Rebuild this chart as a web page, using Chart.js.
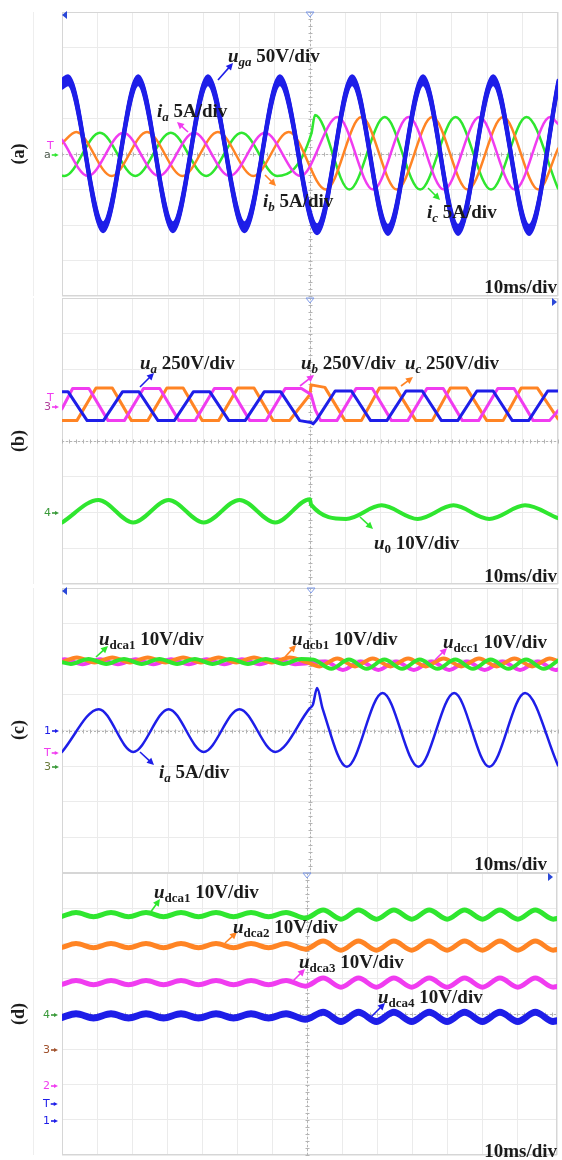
<!DOCTYPE html>
<html>
<head>
<meta charset="utf-8">
<title>Scope captures (a)-(d)</title>
<script src="https://cdn.jsdelivr.net/npm/chart.js"></script>
<style>
    html, body { margin: 0; padding: 0; background: #fff; }
    #wrap { position: relative; width: 562px; height: 1160px; overflow: hidden; }
    canvas { position: absolute; left: 0; }
</style>
</head>
<body>
<div id="wrap">
    <canvas id="scopeA" width="562" height="298" style="top:0px"></canvas>
    <canvas id="scopeB" width="562" height="289" style="top:297px"></canvas>
    <canvas id="scopeC" width="562" height="288" style="top:586px"></canvas>
    <canvas id="scopeD" width="562" height="288" style="top:872px"></canvas>
</div>
<script>
// time in ms (10 ms/div, trigger at 0), values in screen divisions from centre

// (a) grid voltage and phase currents
const tUga = [-70, -68.3, -58.4, -48.5, -38.7, -28.8, -18.5, -8.5, 2.0, 11.9, 22.0, 31.9, 41.8, 51.7, 61.8, 70];
const uga  = [1.98, 2.08, -2.06, 2.08, -2.06, 2.08, -2.06, 2.08, -2.12, 2.08, -2.14, 2.08, -2.14, 2.08, -2.14, 1.95];
const tIaA = [-70, -62.7, -52.7, -42.7, -32.7, -22.7, -12.7, -2.7, 7.8, 17.8, 27.8, 37.8, 47.8, 57.8, 67.8, 70];
const iaA  = [0.4, -0.62, 0.6, -0.62, 0.6, -0.62, 0.6, -0.62, 1.04, -1.0, 1.04, -1.0, 1.04, -1.0, 1.04, 0.85];
const tIbA = [-70, -66, -56, -46, -36, -26, -16, -6, 4.5, 14.5, 24.5, 34.5, 44.5, 54.5, 64.5, 70];
const ibA  = [0.3, 0.62, -0.62, 0.62, -0.62, 0.62, -0.62, 0.62, -1.0, 1.04, -1.0, 1.04, -1.0, 1.04, -1.0, 0.15];
const tIcA = [-70, -69.3, -59.3, -49.3, -39.3, -29.3, -19.3, -9.3, 0.4, 1.4, 11.1, 21.1, 31.1, 41.1, 51.1, 61.1, 70];
const icA  = [-0.61, -0.62, 0.6, -0.62, 0.6, -0.62, 0.6, -0.62, 0.58, 1.1, -1.0, 1.04, -1.0, 1.04, -1.0, 1.04, -0.97];

// (b) phase voltages (trapezoid corners) and zero-sequence voltage
const tUa = [-70, -68.3, -62.9, -58.3, -52.9, -48.3, -42.9, -38.3, -32.9, -28.3, -22.9, -18.3, -12.9, -8.3, -2.9, 0.3, 0.9, 1.7, 7.1, 11.7, 17.1, 21.7, 27.1, 31.7, 37.1, 41.7, 47.1, 51.7, 57.1, 61.7, 67.1, 70];
const ua  = [1.38, 1.38, 0.57, 0.57, 1.38, 1.38, 0.57, 0.57, 1.38, 1.38, 0.57, 0.57, 1.38, 1.38, 0.57, 0.52, 0.48, 0.57, 1.40, 1.40, 0.57, 0.57, 1.40, 1.40, 0.57, 0.57, 1.40, 1.40, 0.57, 0.57, 1.40, 1.40];
const tUb = [-70, -67, -62.4, -57, -52.4, -47, -42.4, -37, -32.4, -27, -22.4, -17, -12.4, -7, -2.4, 0.3, 1.5, 3, 7.6, 13, 17.6, 23, 27.6, 33, 37.6, 43, 47.6, 53, 57.6, 63, 67.6, 70];
const ub  = [0.9, 1.47, 1.47, 0.57, 0.57, 1.47, 1.47, 0.57, 0.57, 1.47, 1.47, 0.57, 0.57, 1.47, 1.47, 1.3, 0.87, 0.57, 0.57, 1.47, 1.47, 0.57, 0.57, 1.47, 1.47, 0.57, 0.57, 1.47, 1.47, 0.57, 0.57, 0.85];
const tUc = [-70, -65.8, -60.4, -55.8, -50.4, -45.8, -40.4, -35.8, -30.4, -25.8, -20.4, -15.8, -10.4, -5.8, 0, 0.3, 4.2, 9.9, 14.5, 19.6, 24.2, 29.9, 34.5, 39.6, 44.2, 49.9, 54.5, 59.6, 64.2, 70];
const uc  = [0.57, 0.57, 1.48, 1.48, 0.57, 0.57, 1.48, 1.48, 0.57, 0.57, 1.48, 1.48, 0.57, 0.57, 1.3, 1.57, 1.5, 0.57, 0.57, 1.48, 1.48, 0.57, 0.57, 1.48, 1.48, 0.57, 0.57, 1.48, 1.48, 0.62];
const tU0 = [-70, -59.7, -49.9, -39.9, -30.0, -19.9, -9.8, 0, 0.3, 10.2, 20.2, 30.4, 40.5, 50.6, 60.7, 70];
const u0  = [-2.28, -1.65, -2.28, -1.65, -2.28, -1.65, -2.28, -1.63, -1.78, -2.18, -1.8, -2.18, -1.8, -2.18, -1.8, -2.16];

// (c) first-module dc voltages of each cluster and phase-a current
const tDca = [-70, -67.5, -62.5, -57.5, -52.5, -47.5, -42.5, -37.5, -32.5, -27.5, -22.5, -17.5, -12.5, -7.5, -2.5, 1, 6, 11, 16, 21, 26, 31, 36, 41, 46, 51, 56, 61, 66, 70];
const udca1C = [1.92, 1.87, 2.01, 1.87, 2.01, 1.87, 2.01, 1.87, 2.01, 1.87, 2.01, 1.87, 2.01, 1.87, 2.01, 1.99, 1.73, 1.99, 1.73, 1.99, 1.73, 1.99, 1.73, 1.99, 1.73, 1.99, 1.73, 1.99, 1.73, 1.96];
const tDcb = [-70, -65.8, -60.8, -55.8, -50.8, -45.8, -40.8, -35.8, -30.8, -25.8, -20.8, -15.8, -10.8, -5.8, -0.8, 2.7, 7.7, 12.7, 17.7, 22.7, 27.7, 32.7, 37.7, 42.7, 47.7, 52.7, 57.7, 62.7, 67.7, 70];
const udcb1C = [1.92, 2.05, 1.91, 2.05, 1.91, 2.05, 1.91, 2.05, 1.91, 2.05, 1.91, 2.05, 1.91, 2.05, 1.91, 1.80, 2.02, 1.80, 2.02, 1.80, 2.02, 1.80, 2.02, 1.80, 2.02, 1.80, 2.02, 1.80, 2.02, 1.95];
const tDcc = [-70, -69.2, -64.2, -59.2, -54.2, -49.2, -44.2, -39.2, -34.2, -29.2, -24.2, -19.2, -14.2, -9.2, -4.2, 4.3, 9.3, 14.3, 19.3, 24.3, 29.3, 34.3, 39.3, 44.3, 49.3, 54.3, 59.3, 64.3, 69.3, 70];
const udcc1C = [1.99, 2.0, 1.86, 2.0, 1.86, 2.0, 1.86, 2.0, 1.86, 2.0, 1.86, 2.0, 1.86, 2.0, 1.86, 1.94, 1.70, 1.94, 1.70, 1.94, 1.70, 1.94, 1.70, 1.94, 1.70, 1.94, 1.70, 1.94, 1.70, 1.71];
const tIaC = [-70, -59.6, -49.9, -39.9, -30.0, -19.9, -9.8, -0.1, 0.8, 2.0, 3.6, 10.4, 20.5, 30.6, 40.7, 50.6, 60.7, 70];
const iaC  = [-0.6, 0.6, -0.6, 0.6, -0.6, 0.6, -0.6, 0.62, 0.72, 1.19, 0.6, -1.02, 1.05, -1.02, 1.05, -1.02, 1.05, -0.98];

// (d) the four dc voltages of cluster a (ripples in phase)
const tD = [-70, -66, -61, -56, -51, -46, -41, -36, -31, -26, -21, -16, -11, -6, -0.5, 4.6, 9.7, 14.7, 19.8, 24.8, 29.9, 34.9, 40, 45, 50.1, 55.1, 60.2, 65.2, 70.3, 71.4];
const udca1D = [2.77, 2.88, 2.76, 2.88, 2.76, 2.88, 2.76, 2.88, 2.76, 2.88, 2.76, 2.88, 2.76, 2.88, 2.72, 2.95, 2.69, 2.95, 2.69, 2.95, 2.69, 2.95, 2.69, 2.95, 2.69, 2.95, 2.69, 2.95, 2.69, 2.71];
const udca2D = [1.89, 2.00, 1.88, 2.00, 1.88, 2.00, 1.88, 2.00, 1.88, 2.00, 1.88, 2.00, 1.88, 2.00, 1.84, 2.07, 1.81, 2.07, 1.81, 2.07, 1.81, 2.07, 1.81, 2.07, 1.81, 2.07, 1.81, 2.07, 1.81, 1.83];
const udca3D = [0.84, 0.95, 0.83, 0.95, 0.83, 0.95, 0.83, 0.95, 0.83, 0.95, 0.83, 0.95, 0.83, 0.95, 0.79, 1.02, 0.76, 1.02, 0.76, 1.02, 0.76, 1.02, 0.76, 1.02, 0.76, 1.02, 0.76, 1.02, 0.76, 0.78];
const udca4D = [-0.10, 0.01, -0.11, 0.01, -0.11, 0.01, -0.11, 0.01, -0.11, 0.01, -0.11, 0.01, -0.11, 0.01, -0.15, 0.05, -0.21, 0.05, -0.21, 0.05, -0.21, 0.05, -0.21, 0.05, -0.21, 0.05, -0.21, 0.05, -0.21, -0.19];

const BLUE = '#1e1ee8', MAGENTA = '#f03cf0', ORANGE = '#ff8424', GREEN = '#2fe62f';
const INK = '#1b1b1b';
const SERIF = '"Liberation Serif", "Times New Roman", serif';

function pts(t, v) {
    return t.map((x, i) => ({ x: x, y: v[i] }));
}

const panels = [
    {
        id: 'scopeA', top: 0, xMax: 70, pad: { left: 62, right: 4, top: 12, bottom: 2 },
        series: [
            // noisy trace: thin stroke repeated with small vertical offsets (px)
            { t: tUga, v: uga, color: BLUE, width: 3, band: [-4.5, -3, -1.5, 1.5, 3, 4.5] },
            { t: tIaA, v: iaA, color: MAGENTA, width: 2.5 },
            { t: tIbA, v: ibA, color: ORANGE, width: 2.5 },
            { t: tIcA, v: icA, color: GREEN, width: 2.5 }
        ],
        letter: '(a)', letterY: 154, scaleLabel: { x: 557, y: 293 },
        labels: [
            { x: 228, y: 62, main: 'u', sub: 'ga', subIt: true, rest: ' 50V/div' },
            { x: 157, y: 117, main: 'i', sub: 'a', subIt: true, rest: ' 5A/div' },
            { x: 263, y: 207, main: 'i', sub: 'b', subIt: true, rest: ' 5A/div' },
            { x: 427, y: 218, main: 'i', sub: 'c', subIt: true, rest: ' 5A/div' }
        ],
        arrows: [
            { from: [218, 80], to: [233, 63], color: BLUE },
            { from: [188, 132], to: [177, 122], color: MAGENTA },
            { from: [265, 175], to: [276, 186], color: ORANGE },
            { from: [428, 188], to: [440, 200], color: GREEN }
        ],
        marks: [
            { s: 'T', x: 47, y: 146, color: MAGENTA },
            { s: 'a', x: 44, y: 155, color: '#4d5a4d', arrow: GREEN }
        ],
        tris: [{ kind: 'left', x: 62, y: 15 }, { kind: 'down', x: 310, y: 12 }]
    },
    {
        id: 'scopeB', top: 297, xMax: 70, pad: { left: 62, right: 4, top: 1, bottom: 2 },
        series: [
            { t: tUa, v: ua, color: BLUE, width: 3, straight: true },
            { t: tUb, v: ub, color: MAGENTA, width: 3, straight: true },
            { t: tUc, v: uc, color: ORANGE, width: 3, straight: true },
            { t: tU0, v: u0, color: GREEN, width: 4 }
        ],
        letter: '(b)', letterY: 441, scaleLabel: { x: 557, y: 582 },
        labels: [
            { x: 140, y: 369, main: 'u', sub: 'a', subIt: true, rest: ' 250V/div' },
            { x: 301, y: 369, main: 'u', sub: 'b', subIt: true, rest: ' 250V/div' },
            { x: 405, y: 369, main: 'u', sub: 'c', subIt: true, rest: ' 250V/div' },
            { x: 374, y: 549, main: 'u', sub: '0', subIt: false, rest: ' 10V/div' }
        ],
        arrows: [
            { from: [140, 387], to: [154, 373], color: BLUE },
            { from: [300, 386], to: [314, 375], color: MAGENTA },
            { from: [401, 386], to: [413, 377], color: ORANGE },
            { from: [360, 517], to: [373, 529], color: GREEN }
        ],
        marks: [
            { s: 'T', x: 47, y: 398, color: MAGENTA },
            { s: '3', x: 44, y: 407, color: '#b0409a', arrow: MAGENTA },
            { s: '4', x: 44, y: 513, color: '#3a9a3a', arrow: '#3a9a3a' }
        ],
        tris: [{ kind: 'down', x: 310, y: 298 }, { kind: 'right', x: 557, y: 302 }]
    },
    {
        id: 'scopeC', top: 586, xMax: 70, pad: { left: 62, right: 4, top: 2, bottom: 1 },
        series: [
            { t: tDca, v: udca1C, color: GREEN, width: 4 },
            { t: tDcb, v: udcb1C, color: ORANGE, width: 4 },
            { t: tDcc, v: udcc1C, color: MAGENTA, width: 4 },
            { t: tIaC, v: iaC, color: BLUE, width: 2.5 }
        ],
        letter: '(c)', letterY: 730, scaleLabel: { x: 547, y: 870 },
        labels: [
            { x: 99, y: 645, main: 'u', sub: 'dca1', subIt: false, rest: ' 10V/div' },
            { x: 292, y: 645, main: 'u', sub: 'dcb1', subIt: false, rest: ' 10V/div' },
            { x: 443, y: 648, main: 'u', sub: 'dcc1', subIt: false, rest: ' 10V/div' },
            { x: 159, y: 778, main: 'i', sub: 'a', subIt: true, rest: ' 5A/div' }
        ],
        arrows: [
            { from: [96, 657], to: [108, 646], color: GREEN },
            { from: [285, 657], to: [296, 645], color: ORANGE },
            { from: [435, 660], to: [447, 648], color: MAGENTA },
            { from: [140, 752], to: [154, 765], color: BLUE }
        ],
        marks: [
            { s: '1', x: 44, y: 731, color: BLUE, arrow: BLUE },
            { s: 'T', x: 44, y: 753, color: MAGENTA, arrow: MAGENTA },
            { s: '3', x: 44, y: 767, color: '#6a7a3a', arrow: '#3a9a3a' }
        ],
        tris: [{ kind: 'left', x: 62, y: 591 }, { kind: 'down', x: 311, y: 588 }]
    },
    {
        id: 'scopeD', top: 872, xMax: 71.4, pad: { left: 62, right: 5, top: 1, bottom: 5 },
        series: [
            { t: tD, v: udca1D, color: GREEN, width: 5 },
            { t: tD, v: udca2D, color: ORANGE, width: 5 },
            { t: tD, v: udca3D, color: MAGENTA, width: 5 },
            { t: tD, v: udca4D, color: BLUE, width: 4, band: [-1.5, 1.5] }
        ],
        letter: '(d)', letterY: 1014, scaleLabel: { x: 557, y: 1157 },
        labels: [
            { x: 154, y: 898, main: 'u', sub: 'dca1', subIt: false, rest: ' 10V/div' },
            { x: 233, y: 933, main: 'u', sub: 'dca2', subIt: false, rest: ' 10V/div' },
            { x: 299, y: 968, main: 'u', sub: 'dca3', subIt: false, rest: ' 10V/div' },
            { x: 378, y: 1003, main: 'u', sub: 'dca4', subIt: false, rest: ' 10V/div' }
        ],
        arrows: [
            { from: [150, 913], to: [160, 899], color: GREEN },
            { from: [225, 943], to: [237, 932], color: ORANGE },
            { from: [292, 982], to: [305, 969], color: MAGENTA },
            { from: [371, 1017], to: [385, 1003], color: BLUE }
        ],
        marks: [
            { s: '4', x: 43, y: 1015, color: '#3a9a3a', arrow: '#3a9a3a' },
            { s: '3', x: 43, y: 1050, color: '#a0522d', arrow: '#a0522d' },
            { s: '2', x: 43, y: 1086, color: MAGENTA, arrow: MAGENTA },
            { s: 'T', x: 43, y: 1104, color: BLUE, arrow: BLUE },
            { s: '1', x: 43, y: 1121, color: BLUE, arrow: BLUE }
        ],
        tris: [{ kind: 'down', x: 307, y: 873 }, { kind: 'right', x: 553, y: 877 }]
    }
];

function drawArrow(ctx, x1, y1, x2, y2, color, head) {
    const ang = Math.atan2(y2 - y1, x2 - x1);
    const c = Math.cos(ang), s = Math.sin(ang);
    ctx.strokeStyle = color;
    ctx.fillStyle = color;
    ctx.lineWidth = 1.6;
    ctx.beginPath();
    ctx.moveTo(x1, y1);
    ctx.lineTo(x2 - head * 0.6 * c, y2 - head * 0.6 * s);
    ctx.stroke();
    ctx.beginPath();
    ctx.moveTo(x2, y2);
    ctx.lineTo(x2 - head * c + head * 0.5 * s, y2 - head * s - head * 0.5 * c);
    ctx.lineTo(x2 - head * c - head * 0.5 * s, y2 - head * s + head * 0.5 * c);
    ctx.closePath();
    ctx.fill();
}

const scopeDecor = {
    id: 'scopeDecor',
    beforeDatasetsDraw(chart) {
        const p = chart.$panel;
        const { ctx, chartArea: a } = chart;
        const x = chart.scales.x, y = chart.scales.y;
        ctx.save();
        // faint edge of the scope screenshot
        ctx.strokeStyle = '#eeeeee';
        ctx.lineWidth = 1;
        ctx.beginPath();
        ctx.moveTo(33.5, a.top);
        ctx.lineTo(33.5, a.bottom);
        ctx.stroke();
        // frame
        ctx.strokeStyle = '#d6d6d6';
        ctx.strokeRect(a.left + 0.5, a.top + 0.5, a.width - 1, a.height - 1);
        // dotted centre cross with minor ticks
        const cx = Math.round(x.getPixelForValue(0)) + 0.5;
        const cy = Math.round(y.getPixelForValue(0)) + 0.5;
        ctx.strokeStyle = '#b4b4b4';
        ctx.setLineDash([2, 2]);
        ctx.beginPath();
        ctx.moveTo(cx, a.top);
        ctx.lineTo(cx, a.bottom);
        ctx.moveTo(a.left, cy);
        ctx.lineTo(a.right, cy);
        ctx.stroke();
        ctx.setLineDash([]);
        ctx.beginPath();
        for (let t = -70; t <= p.xMax + 0.01; t += 2) {
            const px = Math.round(x.getPixelForValue(t)) + 0.5;
            ctx.moveTo(px, cy - 2);
            ctx.lineTo(px, cy + 2);
        }
        for (let k = -20; k <= 20; k++) {
            const py = Math.round(y.getPixelForValue(k / 5)) + 0.5;
            ctx.moveTo(cx - 2, py);
            ctx.lineTo(cx + 2, py);
        }
        ctx.stroke();
        ctx.restore();
    },
    afterDatasetDraw(chart, args) {
        const ds = chart.data.datasets[args.index];
        if (!ds.band) return;
        const { ctx, chartArea: a } = chart;
        ctx.save();
        ctx.beginPath();
        ctx.rect(a.left, a.top, a.width, a.height);
        ctx.clip();
        ds.band.forEach(dy => {
            ctx.save();
            ctx.translate(0, dy);
            args.meta.dataset.draw(ctx, a);
            ctx.restore();
        });
        ctx.restore();
    },
    afterDraw(chart) {
        const p = chart.$panel;
        const ctx = chart.ctx;
        const oy = p.top;
        ctx.save();

        // trigger / position markers
        p.tris.forEach(m => {
            const ty = m.y - oy;
            ctx.beginPath();
            if (m.kind === 'left') {
                ctx.moveTo(m.x, ty); ctx.lineTo(m.x + 5, ty - 4); ctx.lineTo(m.x + 5, ty + 4);
                ctx.closePath(); ctx.fillStyle = '#2a48d8'; ctx.fill();
            } else if (m.kind === 'right') {
                ctx.moveTo(m.x, ty); ctx.lineTo(m.x - 5, ty - 4); ctx.lineTo(m.x - 5, ty + 4);
                ctx.closePath(); ctx.fillStyle = '#2a48d8'; ctx.fill();
            } else {
                ctx.moveTo(m.x - 4, ty); ctx.lineTo(m.x + 4, ty); ctx.lineTo(m.x, ty + 5);
                ctx.closePath(); ctx.strokeStyle = '#7f9be8'; ctx.lineWidth = 1; ctx.stroke();
            }
        });

        // channel ground markers
        ctx.textBaseline = 'middle';
        ctx.textAlign = 'left';
        p.marks.forEach(m => {
            ctx.font = '11px "DejaVu Sans", sans-serif';
            ctx.fillStyle = m.color;
            ctx.fillText(m.s, m.x, m.y - oy);
            if (m.arrow) {
                const w = ctx.measureText(m.s).width;
                drawArrow(ctx, m.x + w + 1, m.y - oy, m.x + w + 8, m.y - oy, m.arrow, 4);
            }
        });

        // pointer arrows
        p.arrows.forEach(a => drawArrow(ctx, a.from[0], a.from[1] - oy, a.to[0], a.to[1] - oy, a.color, 7));

        // trace labels
        ctx.textBaseline = 'alphabetic';
        ctx.fillStyle = INK;
        p.labels.forEach(L => {
            let cx = L.x;
            const by = L.y - oy;
            ctx.font = 'italic bold 19px ' + SERIF;
            ctx.fillText(L.main, cx, by);
            cx += ctx.measureText(L.main).width;
            ctx.font = (L.subIt ? 'italic ' : '') + 'bold 13px ' + SERIF;
            ctx.fillText(L.sub, cx, by + 4);
            cx += ctx.measureText(L.sub).width;
            ctx.font = 'bold 19px ' + SERIF;
            ctx.fillText(L.rest, cx, by);
        });

        // time base
        ctx.textAlign = 'right';
        ctx.font = 'bold 19px ' + SERIF;
        ctx.fillText('10ms/div', p.scaleLabel.x, p.scaleLabel.y - oy);

        // panel letter, rotated
        ctx.translate(19, p.letterY - oy);
        ctx.rotate(-Math.PI / 2);
        ctx.textAlign = 'center';
        ctx.textBaseline = 'middle';
        ctx.font = 'bold 18px ' + SERIF;
        ctx.fillText(p.letter, 0, 0);
        ctx.restore();
    }
};

panels.forEach(p => {
    new Chart(document.getElementById(p.id), {
        type: 'line',
        data: {
            datasets: p.series.map(s => ({
                data: pts(s.t, s.v),
                band: s.band,
                borderColor: s.color,
                borderWidth: s.width,
                pointRadius: 0,
                fill: false,
                tension: 0,
                cubicInterpolationMode: s.straight ? 'default' : 'monotone',
                borderJoinStyle: 'round',
                borderCapStyle: 'round'
            }))
        },
        options: {
            responsive: false,
            animation: false,
            events: [],
            layout: { padding: p.pad, autoPadding: false },
            plugins: {
                legend: { display: false },
                tooltip: { enabled: false }
            },
            scales: {
                x: {
                    type: 'linear',
                    min: -70,
                    max: p.xMax,
                    ticks: { display: false, stepSize: 10, maxTicksLimit: 20 },
                    grid: { color: '#ebebeb', drawTicks: false },
                    border: { display: false }
                },
                y: {
                    type: 'linear',
                    min: -4,
                    max: 4,
                    ticks: { display: false, stepSize: 1, maxTicksLimit: 20 },
                    grid: { color: '#ebebeb', drawTicks: false },
                    border: { display: false }
                }
            }
        },
        plugins: [{
            id: 'panelRef',
            beforeInit(c) { c.$panel = p; }
        }, scopeDecor]
    });
});
</script>
</body>
</html>
